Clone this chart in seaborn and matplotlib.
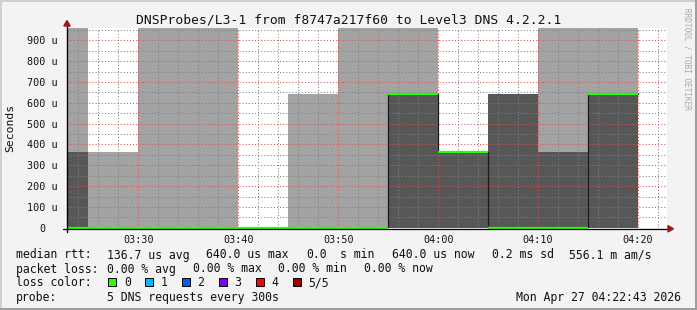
import matplotlib
matplotlib.use("Agg")
import matplotlib.pyplot as plt
from matplotlib.patches import Rectangle, Polygon
from matplotlib.ticker import FixedLocator, FuncFormatter
import numpy as np
import pandas as pd
import seaborn as sns

# ---------------- data ----------------
interval_starts = ["03:20", "03:25", "03:30", "03:35", "03:40", "03:45",
                   "03:50", "03:55", "04:00", "04:05", "04:10", "04:15"]
light_top_us = [960, 362, 960, 960, 0, 640, 960, 960, 362, 640, 960, 960]
dark_top_us = [362, 0, 0, 0, 0, 0, 0, 640, 362, 640, 362, 640]
median_us = [0, 0, 0, 0, 0, 0, 0, 640, 362, 0, 0, 640]
interval_minutes = 5

xtick_labels = ["03:30", "03:40", "03:50", "04:00", "04:10", "04:20"]
ytick_values = [0, 100, 200, 300, 400, 500, 600, 700, 800, 900]
view_start, view_end = "03:22:52", "04:22:55"

title = "DNSProbes/L3-1 from f8747a217f60 to Level3 DNS 4.2.2.1"
ylabel = "Seconds"
median_items = ["median rtt:", "136.7 us avg", "640.0 us max", "0.0", "s min",
                "640.0 us now", "0.2 ms sd", "556.1 m am/s"]
loss_items = ["packet loss:", "0.00 % avg", "0.00 % max", "0.00 % min", "0.00 % now"]
loss_color_label = "loss color:"
probe_items = ["probe:", "5 DNS requests every 300s"]
loss_labels = ["0", "1", "2", "3", "4", "5/5"]
loss_colors = ["#26ff00", "#00b8ff", "#0059ff", "#7e00ff", "#ff0000", "#a00000"]
timestamp = "Mon Apr 27 04:22:43 2026"
watermark = "RRDTOOL / TOBI OETIKER"


def to_min(s):
    parts = [int(p) for p in s.split(":")]
    m = parts[0] * 60 + parts[1]
    if len(parts) > 2:
        m += parts[2] / 60.0
    return m


starts = np.array([to_min(s) for s in interval_starts], dtype=float)
ends = starts + interval_minutes
xticks = [to_min(s) for s in xtick_labels]

# ---------------- style ----------------
sns.set_style("white")
plt.rcParams["font.family"] = ["DejaVu Sans Mono", "DejaVu Sans"]

W, H = 697, 310
BG = "#f3f3f3"
fig = plt.figure(figsize=(W / 100, H / 100), dpi=100, facecolor=BG)


def fx(x):
    return x / W


def fy(y):
    return 1 - y / H


ax_l, ax_r, ax_t, ax_b = 67, 667.3, 28, 227.8
ax = fig.add_axes([fx(ax_l), fy(ax_b), (ax_r - ax_l) / W, (ax_b - ax_t) / H])
ax.set_facecolor("white")

# smoke
ax.bar(starts, light_top_us, width=interval_minutes, align="edge",
       color="#a3a3a3", linewidth=0, zorder=1)
ax.bar(starts, dark_top_us, width=interval_minutes, align="edge",
       color="#575757", linewidth=0, zorder=1.2)

# median step line (vertical connectors) via seaborn
step_df = pd.DataFrame({"t": list(starts) + [ends[-1]],
                        "median": list(median_us) + [median_us[-1]]})
sns.lineplot(data=step_df, x="t", y="median", drawstyle="steps-post",
             color="#1a1a1a", linewidth=0.9, ax=ax, estimator=None,
             sort=False, zorder=3)
# median coloured by loss (all 0 loss -> green)
med = ax.hlines(median_us, starts, ends, colors=loss_colors[0], linewidth=1.6, zorder=4)
clip_rect = Rectangle((0, -0.03), 1, 1.06, transform=ax.transAxes, facecolor="none",
                      edgecolor="none")
med.set_clip_path(clip_rect)

ax.set_xlim(to_min(view_start), to_min(view_end))
ax.set_ylim(0, 959)

# grid
ax.xaxis.set_major_locator(FixedLocator(xticks))
ax.xaxis.set_major_formatter(FuncFormatter(lambda v, p: "%02d:%02d" % (int(round(v)) // 60, int(round(v)) % 60)))
xmin_i = int(np.ceil(to_min(view_start)))
ax.xaxis.set_minor_locator(FixedLocator([m for m in range(xmin_i, int(to_min(view_end)) + 1)
                                         if m % 2 == 0 and m % 10 != 0]))
ax.yaxis.set_major_locator(FixedLocator(ytick_values))
ax.yaxis.set_minor_locator(FixedLocator([v + 50 for v in ytick_values]))
ax.yaxis.set_major_formatter(FuncFormatter(lambda v, p: "0  " if v == 0 else "%d u" % v))

ax.set_axisbelow(False)
ax.grid(which="major", color=(0.9, 0.3, 0.3, 0.42), linestyle=(0, (1, 2)), linewidth=0.75)
ax.grid(which="minor", color=(0.5, 0.5, 0.5, 0.26), linestyle=(0, (1, 2)), linewidth=0.75)

for s in ax.spines.values():
    s.set_visible(False)

ax.tick_params(axis="x", which="major", direction="inout", length=4, width=0.75,
               color="black", labelsize=7.3, pad=3.5, labelcolor="#111111")
ax.tick_params(axis="x", which="minor", direction="in", length=1.6, width=0.75, color="black")
ax.tick_params(axis="y", which="major", direction="out", length=1.5, width=0.75,
               color="#d06060", labelsize=7.3, pad=5.0, labelcolor="#111111")
ax.tick_params(axis="y", which="minor", direction="in", length=1.5, width=0.75, color="black")
ax.set_xlabel("")
ax.set_ylabel("")

# axis lines + arrows (figure pixels)
xax_y = 228.8
fig.add_artist(plt.Line2D([fx(62.7), fx(668.5)], [fy(xax_y), fy(xax_y)], color="black",
                          linewidth=0.9, transform=fig.transFigure, zorder=10))
fig.add_artist(plt.Line2D([fx(ax_l), fx(ax_l)], [fy(231.5), fy(24)], color="black",
                          linewidth=1.0, transform=fig.transFigure, zorder=10))
arrow_col = "#9a1a1a"
fig.add_artist(Polygon([(fx(668), fy(xax_y - 3.2)), (fx(673.5), fy(xax_y)), (fx(668), fy(xax_y + 3.2))],
                       closed=True, color=arrow_col, transform=fig.transFigure, zorder=11))
fig.add_artist(Polygon([(fx(63.8), fy(26)), (fx(ax_l), fy(20.5)), (fx(70.2), fy(26))],
                       closed=True, color=arrow_col, transform=fig.transFigure, zorder=11))

# title / labels
fig.text(0.5, fy(23.7), title, ha="center", va="baseline", fontsize=9.4, color="#111111")
fig.text(fx(10.5), fy(128), ylabel, rotation=90, ha="center", va="center",
         fontsize=8.2, color="#111111")
fig.text(fx(686.5), fy(59), watermark, rotation=-90, ha="center", va="center",
         fontsize=5.6, color="#a8a8a8")

# legend text (items placed at their columns)
FS = 8.32
base_y = [258.5, 272.5, 286.5, 300.5]
median_x = [15.5, 107, 206, 306, 340.5, 392.5, 492.5, 569]
loss_x = [15.5, 107, 193, 278.5, 363.5]
probe_x = [15.5, 107]


def put(items, xs, by):
    for t, x in zip(items, xs):
        fig.text(fx(x), fy(by), t, ha="left", va="baseline", fontsize=FS, color="#111111")


put(median_items, median_x, base_y[0])
put(loss_items, loss_x, base_y[1])
put([loss_color_label], [15.5], base_y[2])
put(probe_items, probe_x, base_y[3])
fig.text(fx(680.5), fy(base_y[3]), timestamp, ha="right", va="baseline",
         fontsize=FS, color="#111111")

for i, (lab, col) in enumerate(zip(loss_labels, loss_colors)):
    bx = 108.3 + i * 36.9
    fig.add_artist(Rectangle((fx(bx), fy(286.2)), 8 / W, 8 / H, facecolor=col,
                             edgecolor="black", linewidth=0.7, transform=fig.transFigure))
    fig.text(fx(bx + 15.5), fy(base_y[2]), lab, ha="left", va="baseline",
             fontsize=FS, color="#111111")

# image border (shades)
fig.add_artist(Rectangle((0, fy(2)), 1, 2 / H, facecolor="#cfcfcf", edgecolor="none",
                         transform=fig.transFigure, zorder=20))
fig.add_artist(Rectangle((0, 0), 2 / W, 1, facecolor="#cfcfcf", edgecolor="none",
                         transform=fig.transFigure, zorder=20))
fig.add_artist(Rectangle((fx(695), 0), 2 / W, 1, facecolor="#9e9e9e", edgecolor="none",
                         transform=fig.transFigure, zorder=21))
fig.add_artist(Rectangle((0, 0), 1, 2 / H, facecolor="#9e9e9e", edgecolor="none",
                         transform=fig.transFigure, zorder=21))

fig.savefig("out.png", dpi=100, facecolor=BG)
